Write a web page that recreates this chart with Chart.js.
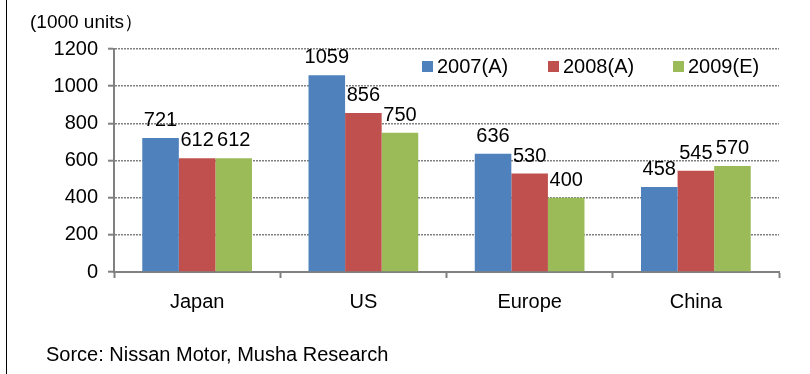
<!DOCTYPE html>
<html>
<head>
<meta charset="utf-8">
<script src="https://cdn.jsdelivr.net/npm/chart.js@4/dist/chart.umd.min.js"></script>
<style>
  html, body { margin: 0; padding: 0; background: #fff; }
  #wrap { position: relative; width: 810px; height: 374px; overflow: hidden; }
  #chart { position: absolute; left: 0; top: 0; }
  .edge { position: absolute; left: 6px; top: 0; width: 1px; height: 374px; background: #000; }
  .note { position: absolute; font-family: "Liberation Sans", Arial, sans-serif; color: #000; white-space: nowrap; }
  #unit { left: 30px; top: 9px; font-size: 19px; }
  #source { left: 46px; top: 343px; font-size: 20px; }
</style>
</head>
<body>
<div id="wrap">
  <canvas id="chart" width="810" height="374"></canvas>
  <div class="edge"></div>
  <div class="note" id="unit">(1000 units）</div>
  <div class="note" id="source">Sorce: Nissan Motor, Musha Research</div>
</div>
<script>
// данные графика
const regions = ['Japan', 'US', 'Europe', 'China'];
const seriesNames = ['2007(A)', '2008(A)', '2009(E)'];
const sales2007 = [721, 1059, 636, 458];
const sales2008 = [612, 856, 530, 545];
const sales2009 = [612, 750, 400, 570];
const yTicks = [0, 200, 400, 600, 800, 1000, 1200];

const colors = ['#4F81BD', '#C0504D', '#9BBB59'];
const FONT = '"Liberation Sans", Arial, sans-serif';
const GRID = '#808080';

// подписи значений над столбцами
const valueLabels = {
  id: 'valueLabels',
  afterDatasetsDraw(chart) {
    const ctx = chart.ctx;
    ctx.save();
    ctx.font = '20px ' + FONT;
    ctx.fillStyle = '#000';
    ctx.textAlign = 'center';
    ctx.textBaseline = 'alphabetic';
    chart.data.datasets.forEach((ds, i) => {
      chart.getDatasetMeta(i).data.forEach((bar, j) => {
        ctx.fillText(String(ds.data[j]), bar.x, bar.y - 12);
      });
    });
    ctx.restore();
  }
};

// легенда внутри области графика
const insideLegend = {
  id: 'insideLegend',
  afterDraw(chart) {
    const ctx = chart.ctx;
    const xs = [422, 548, 673];
    const cy = 66.5;
    ctx.save();
    ctx.font = '20px ' + FONT;
    ctx.textBaseline = 'middle';
    ctx.textAlign = 'left';
    seriesNames.forEach((name, i) => {
      ctx.fillStyle = colors[i];
      ctx.fillRect(xs[i], cy - 5.5, 11, 11);
      ctx.fillStyle = '#000';
      ctx.fillText(name, xs[i] + 15, cy + 1);
    });
    ctx.restore();
  }
};

const ctx = document.getElementById('chart').getContext('2d');
new Chart(ctx, {
  type: 'bar',
  data: {
    labels: regions,
    datasets: [
      { label: seriesNames[0], data: sales2007, backgroundColor: colors[0] },
      { label: seriesNames[1], data: sales2008, backgroundColor: colors[1] },
      { label: seriesNames[2], data: sales2009, backgroundColor: colors[2] }
    ]
  },
  options: {
    responsive: false,
    animation: false,
    layout: { padding: { left: 0, top: 49, right: 31, bottom: 0 } },
    datasets: {
      bar: { categoryPercentage: 0.66, barPercentage: 1.0 }
    },
    plugins: {
      legend: { display: false },
      tooltip: { enabled: false }
    },
    scales: {
      x: {
        afterFit: s => { s.height = 102; },
        grid: {
          offset: true,
          drawOnChartArea: false,
          drawTicks: true,
          tickLength: 6,
          tickColor: GRID,
          tickWidth: 2
        },
        border: { display: true, color: GRID, width: 2 },
        ticks: {
          color: '#000',
          padding: 12,
          font: { family: FONT, size: 20 }
        }
      },
      y: {
        min: 0,
        max: 1200,
        afterFit: s => { s.width = 114; },
        afterBuildTicks: s => { s.ticks = yTicks.map(v => ({ value: v })); },
        grid: {
          color: GRID,
          lineWidth: 1.4,
          tickLength: 6,
          tickColor: GRID,
          tickWidth: 2
        },
        border: { display: true, color: GRID, width: 2, dash: [2, 1] },
        ticks: {
          color: '#000',
          padding: 10,
          font: { family: FONT, size: 20 },
          callback: v => String(v)
        }
      }
    }
  },
  plugins: [valueLabels, insideLegend]
});
</script>
</body>
</html>
